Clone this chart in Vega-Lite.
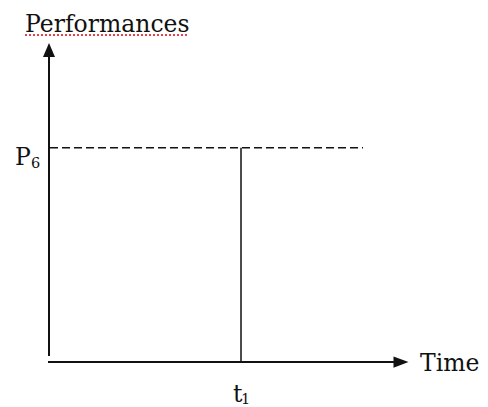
{
  "$schema": "https://vega.github.io/schema/vega-lite/v6.json",
  "width": 488,
  "height": 407,
  "autosize": {"type": "fit", "contains": "padding"},
  "padding": 0,
  "background": "white",
  "config": {"view": {"stroke": null}},
  "datasets": {
    "solid": [
      {"part": "time axis", "x": -1, "y": 0, "x2": 352, "y2": 0},
      {"part": "performance axis", "x": 0, "y": 6, "x2": 0, "y2": 306}
    ],
    "marker": [
      {"part": "t1 line", "x": 192, "y": 0, "x2": 192, "y2": 215}
    ],
    "dashed": [
      {"part": "P6 level", "x": 1, "y": 215, "x2": 314, "y2": 215}
    ],
    "arrowUp": [{"x": 0, "y": 313}],
    "arrowRight": [{"x": 352, "y": 0}],
    "labels": [
      {"label": "Performances", "x": -24, "y": 331},
      {"label": "Time", "x": 371, "y": -9},
      {"label": "P", "x": -34, "y": 198},
      {"label": "t", "x": 184, "y": -40}
    ],
    "subs": [
      {"label": "6", "x": -18, "y": 195},
      {"label": "1", "x": 192, "y": -42}
    ],
    "squiggle": [
      {"x": -24, "y": 328, "x2": 139, "y2": 328}
    ]
  },
  "layer": [
    {
      "data": {"name": "solid"},
      "mark": {"type": "rule", "color": "#111", "strokeWidth": 2},
      "encoding": {
        "x": {"field": "x", "type": "quantitative", "axis": null, "scale": {"domain": [-49, 439], "nice": false, "zero": false}},
        "y": {"field": "y", "type": "quantitative", "axis": null, "scale": {"domain": [-44, 363], "nice": false, "zero": false}},
        "x2": {"field": "x2"},
        "y2": {"field": "y2"}
      }
    },
    {
      "data": {"name": "marker"},
      "mark": {"type": "rule", "color": "#111", "strokeWidth": 1.5},
      "encoding": {
        "x": {"field": "x", "type": "quantitative", "axis": null},
        "y": {"field": "y", "type": "quantitative", "axis": null},
        "x2": {"field": "x2"},
        "y2": {"field": "y2"}
      }
    },
    {
      "data": {"name": "dashed"},
      "mark": {"type": "rule", "color": "#111", "strokeWidth": 1.5, "strokeDash": [8, 4]},
      "encoding": {
        "x": {"field": "x", "type": "quantitative", "axis": null},
        "y": {"field": "y", "type": "quantitative", "axis": null},
        "x2": {"field": "x2"},
        "y2": {"field": "y2"}
      }
    },
    {
      "data": {"name": "squiggle"},
      "mark": {"type": "rule", "color": "#e8202a", "strokeWidth": 2, "strokeDash": [2, 2], "opacity": 0.85},
      "encoding": {
        "x": {"field": "x", "type": "quantitative", "axis": null},
        "y": {"field": "y", "type": "quantitative", "axis": null},
        "x2": {"field": "x2"},
        "y2": {"field": "y2"}
      }
    },
    {
      "data": {"name": "arrowUp"},
      "mark": {"type": "point", "shape": "M0,-1L0.857,1L-0.857,1Z", "filled": true, "color": "#111", "opacity": 1, "size": 196, "strokeWidth": 0},
      "encoding": {
        "x": {"field": "x", "type": "quantitative", "axis": null},
        "y": {"field": "y", "type": "quantitative", "axis": null}
      }
    },
    {
      "data": {"name": "arrowRight"},
      "mark": {"type": "point", "shape": "M1,0L-1,-0.75L-1,0.75Z", "filled": true, "color": "#111", "opacity": 1, "size": 225, "strokeWidth": 0},
      "encoding": {
        "x": {"field": "x", "type": "quantitative", "axis": null},
        "y": {"field": "y", "type": "quantitative", "axis": null}
      }
    },
    {
      "data": {"name": "labels"},
      "mark": {"type": "text", "font": "DejaVu Serif", "fontSize": 23.5, "align": "left", "baseline": "alphabetic", "color": "#111"},
      "encoding": {
        "x": {"field": "x", "type": "quantitative", "axis": null},
        "y": {"field": "y", "type": "quantitative", "axis": null},
        "text": {"field": "label"}
      }
    },
    {
      "data": {"name": "subs"},
      "mark": {"type": "text", "font": "DejaVu Serif", "fontSize": 14.5, "align": "left", "baseline": "alphabetic", "color": "#111"},
      "encoding": {
        "x": {"field": "x", "type": "quantitative", "axis": null},
        "y": {"field": "y", "type": "quantitative", "axis": null},
        "text": {"field": "label"}
      }
    }
  ]
}
